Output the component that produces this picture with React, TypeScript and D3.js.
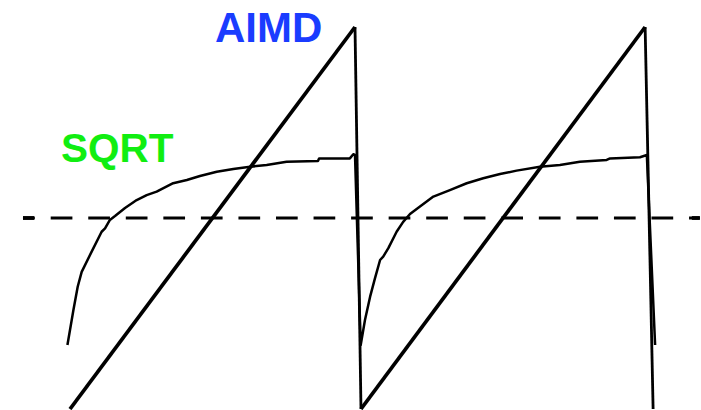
import React from "react";
import * as d3 from "d3";

// time (arbitrary units) and rate (% of peak window)
const aimdT = [0, 10, 10.21, 20.18, 20.46];
const aimdV = [0, 100, 0, 100, 0];

const sqrtT = [
  -0.09, 0, 0.12, 0.27, 0.41, 0.76, 1.11, 1.23, 1.4, 1.58, 1.93, 2.34, 2.69, 3.04, 3.62, 4.1,
  4.56, 5.15, 5.73, 6.32, 6.9, 7.6, 8.7, 8.74, 9.82, 9.94, 10.0, 10.2,
  10.35, 10.53, 10.7, 10.88, 10.99, 11.17, 11.46, 11.69, 11.93, 12.28, 12.75, 13.33, 13.92,
  14.5, 15.09, 15.67, 16.49, 17.19, 17.89, 18.83, 18.95, 20.0, 20.24, 20.53,
];
const sqrtV = [
  16.75, 20.7, 25.9, 32.0, 35.9, 41.2, 46.4, 47.3, 49.5, 50.5, 52.6, 54.7, 56.0, 56.9, 59.1, 59.95,
  61.0, 62.1, 62.8, 63.4, 63.9, 64.7, 64.9, 65.6, 65.6, 66.7, 66.5, 16.75,
  23.3, 29.4, 34.2, 39.0, 39.9, 42.1, 46.4, 49.0, 51.05, 53.0, 55.6, 57.3, 59.1,
  60.4, 61.5, 62.4, 63.4, 63.9, 64.7, 65.2, 65.6, 65.9, 66.5, 16.75,
];

const avgLevel = 50;
const avgRange = [-1.65, 22.1];

const labels = ["AIMD", "SQRT"];
const labelColors = ["#1a3cff", "#11ee11"];

const W = 701;
const H = 410;

export default function App() {
  const x = d3.scaleLinear().domain([0, 20]).range([70, 640]);
  const y = d3.scaleLinear().domain([0, 100]).range([409, 27]);

  const line = d3
    .line<[number, number]>()
    .x((d) => x(d[0]))
    .y((d) => y(d[1]));

  const aimdSegs: { d: string; drop: boolean }[] = [];
  for (let i = 0; i < aimdT.length - 1; i++) {
    const drop = aimdV[i + 1] < aimdV[i];
    aimdSegs.push({
      d: line([
        [aimdT[i], aimdV[i]],
        [aimdT[i + 1], aimdV[i + 1]],
      ]) as string,
      drop,
    });
  }
  const sqrtPath = line(sqrtT.map((t, i) => [t, sqrtV[i]] as [number, number])) as string;

  const x0 = x(avgRange[0]);
  const x1 = x(avgRange[1]);
  const yAvg = y(avgLevel);
  const period = 37.55;
  const dashStart = x(avgRange[0]) - (50.7 - period);

  return (
    <svg
      width={W}
      height={H}
      style={{ position: "absolute", left: 0, top: 0, background: "#fff" }}
    >
      <rect width={W} height={H} fill="#fff" />
      <line
        x1={x0}
        x2={x1}
        y1={yAvg}
        y2={yAvg}
        stroke="#000"
        strokeWidth={2.9}
        strokeDasharray="21.7 15.85"
        strokeDashoffset={dashStart}
      />
      <line x1={x0} x2={x0 + 11} y1={yAvg} y2={yAvg} stroke="#000" strokeWidth={3.8} />
      <line x1={x1 - 8} x2={x1} y1={yAvg} y2={yAvg} stroke="#000" strokeWidth={3.8} />
      <path d={sqrtPath} fill="none" stroke="#000" strokeWidth={2.5} strokeLinejoin="round" />
      {aimdSegs.map((s, i) => (
        <path
          key={i}
          d={s.d}
          fill="none"
          stroke="#000"
          strokeWidth={s.drop ? 2.8 : 3.7}
          strokeLinecap="butt"
        />
      ))}
      <text
        x={215}
        y={42}
        fill={labelColors[0]}
        fontFamily="Liberation Sans, Arial, Helvetica, sans-serif"
        fontWeight="bold"
        fontSize={42}
      >
        {labels[0]}
      </text>
      <text
        x={61}
        y={162}
        fill={labelColors[1]}
        fontFamily="Liberation Sans, Arial, Helvetica, sans-serif"
        fontWeight="bold"
        fontSize={40.5}
      >
        {labels[1]}
      </text>
    </svg>
  );
}
